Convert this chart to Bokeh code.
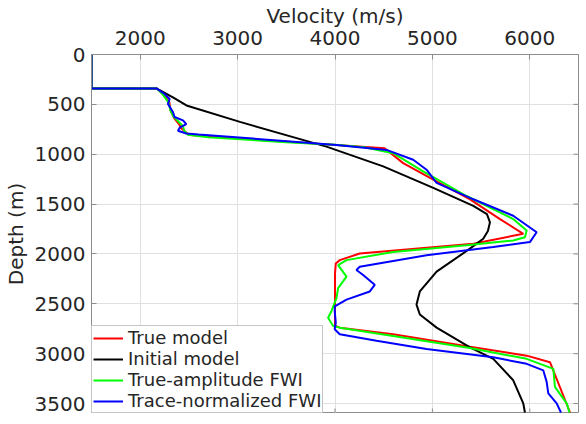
import math
from bokeh.plotting import figure
from bokeh.models import Range1d, FixedTicker
from bokeh.embed import file_html
from bokeh.resources import INLINE

# ---- data (velocity in m/s, depth in m) ----
true_depth = [0, 340, 340, 400, 480, 560, 640, 700, 740, 780, 808, 940, 1089, 1254, 1452, 1650, 1798,
              1897, 1996, 2062, 2095, 2200, 2720, 2739, 2805, 2931, 3020, 3086, 3590]
true_vel = [1500, 1500, 2170, 2240, 2300, 2310, 2350, 2400, 2420, 2470, 2510, 4510, 4700, 5009, 5387, 5694, 5933,
            5420, 4254, 4049, 4008, 4000, 4000, 4049, 4597, 5385, 5968, 6207, 6413]

init_depth = [0, 340, 340, 356, 429, 511, 676, 924, 1122, 1337, 1518, 1600, 1683, 1770, 1848, 1947, 2178,
              2376, 2508, 2607, 2739, 2937, 3052, 3267, 3498, 3590]
init_vel = [1500, 1500, 2170, 2196, 2336, 2475, 3024, 3912, 4495, 5009, 5420, 5560, 5591, 5570, 5522, 5385, 5043,
            4871, 4837, 4871, 5043, 5386, 5625, 5830, 5933, 5950]

ta_depth = [0, 340, 340, 400, 480, 560, 620, 680, 720, 760, 805, 830, 880, 905, 930, 990, 1171, 1419, 1650,
            1766, 1832, 1865, 1914, 1980, 2062, 2112, 2228, 2343, 2442, 2574, 2640, 2723, 2739, 2822, 2944,
            3052, 3152, 3333, 3498, 3590]
ta_vel = [1500, 1500, 2170, 2230, 2290, 2310, 2340, 2400, 2440, 2450, 2490, 2700, 3500, 4000, 4300, 4597, 4905,
          5351, 5830, 5968, 5950, 5830, 5351, 4597, 4118, 4032, 4118, 4032, 4015, 3963, 3929, 3981, 4049, 4597,
          5385, 5968, 6242, 6258, 6379, 6407]

tn_depth = [0, 340, 340, 396, 446, 495, 577, 627, 660, 699, 733, 765, 792, 802, 907, 957, 1056, 1155, 1287,
            1452, 1617, 1782, 1881, 1931, 2013, 2129, 2161, 2211, 2310, 2376, 2458, 2525, 2574, 2689, 2755,
            2805, 2871, 2954, 3036, 3102, 3168, 3283, 3399, 3498, 3590]
tn_vel = [1500, 1500, 2167, 2250, 2302, 2285, 2336, 2353, 2439, 2473, 2405, 2388, 2473, 2600, 4015, 4529, 4803,
          4940, 5043, 5420, 5830, 6070, 6001, 5625, 4940, 4254, 4220, 4289, 4408, 4357, 4118, 3998, 3997, 4008,
          3997, 4049, 4426, 4940, 5625, 5968, 6139, 6173, 6190, 6276, 6320]

x_ticks = [2000, 3000, 4000, 5000, 6000]
y_ticks = [0, 500, 1000, 1500, 2000, 2500, 3000, 3500]
x_min, x_max = 1500, 6500
y_min, y_max = 0, 3600

FONT = "DejaVu Sans"
TXT = "#262626"
AX = "#8c8c8c"
GRID = "#e0e0e0"

p = figure(frame_width=487, frame_height=359, x_range=Range1d(x_min, x_max), y_range=Range1d(y_max, y_min),
           x_axis_location="above", output_backend="svg", toolbar_location=None,
           min_border_left=87, min_border_top=48, min_border_right=4, min_border_bottom=0)
p.background_fill_color = "white"
p.border_fill_color = "white"
p.outline_line_color = AX
p.outline_line_width = 1

p.xaxis.ticker = FixedTicker(ticks=x_ticks)
p.yaxis.ticker = FixedTicker(ticks=y_ticks)
p.xaxis.axis_label = "Velocity (m/s)"
p.yaxis.axis_label = "Depth (m)"
for ax in (p.xaxis[0], p.yaxis[0]):
    ax.axis_label_text_font = FONT
    ax.axis_label_text_font_size = "20px"
    ax.axis_label_text_font_style = "normal"
    ax.axis_label_text_color = TXT
    ax.major_label_text_font = FONT
    ax.major_label_text_font_size = "20px"
    ax.major_label_text_color = TXT
    ax.axis_line_color = AX
    ax.major_tick_line_color = AX
    ax.major_tick_in = 5
    ax.major_tick_out = 0
    ax.minor_tick_line_color = None
p.xaxis.major_label_standoff = 10
p.xaxis.axis_label_standoff = 0
p.yaxis.major_label_standoff = 6
p.yaxis.axis_label_standoff = 4

p.xgrid.grid_line_color = GRID
p.ygrid.grid_line_color = GRID

# mirrored tick marks on the right and bottom frame edges (half of each dash lies inside the frame)
p.scatter(x=x_ticks, y=[y_max] * len(x_ticks), marker="dash", size=10, angle=math.pi / 2,
          line_color=AX, line_width=1)
p.scatter(x=[x_max] * len(y_ticks), y=y_ticks, marker="dash", size=10,
          line_color=AX, line_width=1)

p.line(true_vel, true_depth, line_color="#ff0000", line_width=2, legend_label="True model")
p.line(init_vel, init_depth, line_color="#000000", line_width=2, legend_label="Initial model")
p.line(ta_vel, ta_depth, line_color="#00ff00", line_width=2, legend_label="True-amplitude FWI")
p.line(tn_vel, tn_depth, line_color="#0000ff", line_width=2, legend_label="Trace-normalized FWI")

lg = p.legend[0]
lg.location = "bottom_left"
lg.margin = 0
lg.border_line_color = AX
lg.background_fill_color = "white"
lg.background_fill_alpha = 1
lg.label_text_font = FONT
lg.label_text_font_size = "18px"
lg.label_text_color = TXT
lg.glyph_width = 30
lg.glyph_height = 20
lg.label_height = 20
lg.spacing = 0
lg.padding = 1
lg.label_standoff = 5

open("out.html", "w").write(file_html(p, INLINE))
